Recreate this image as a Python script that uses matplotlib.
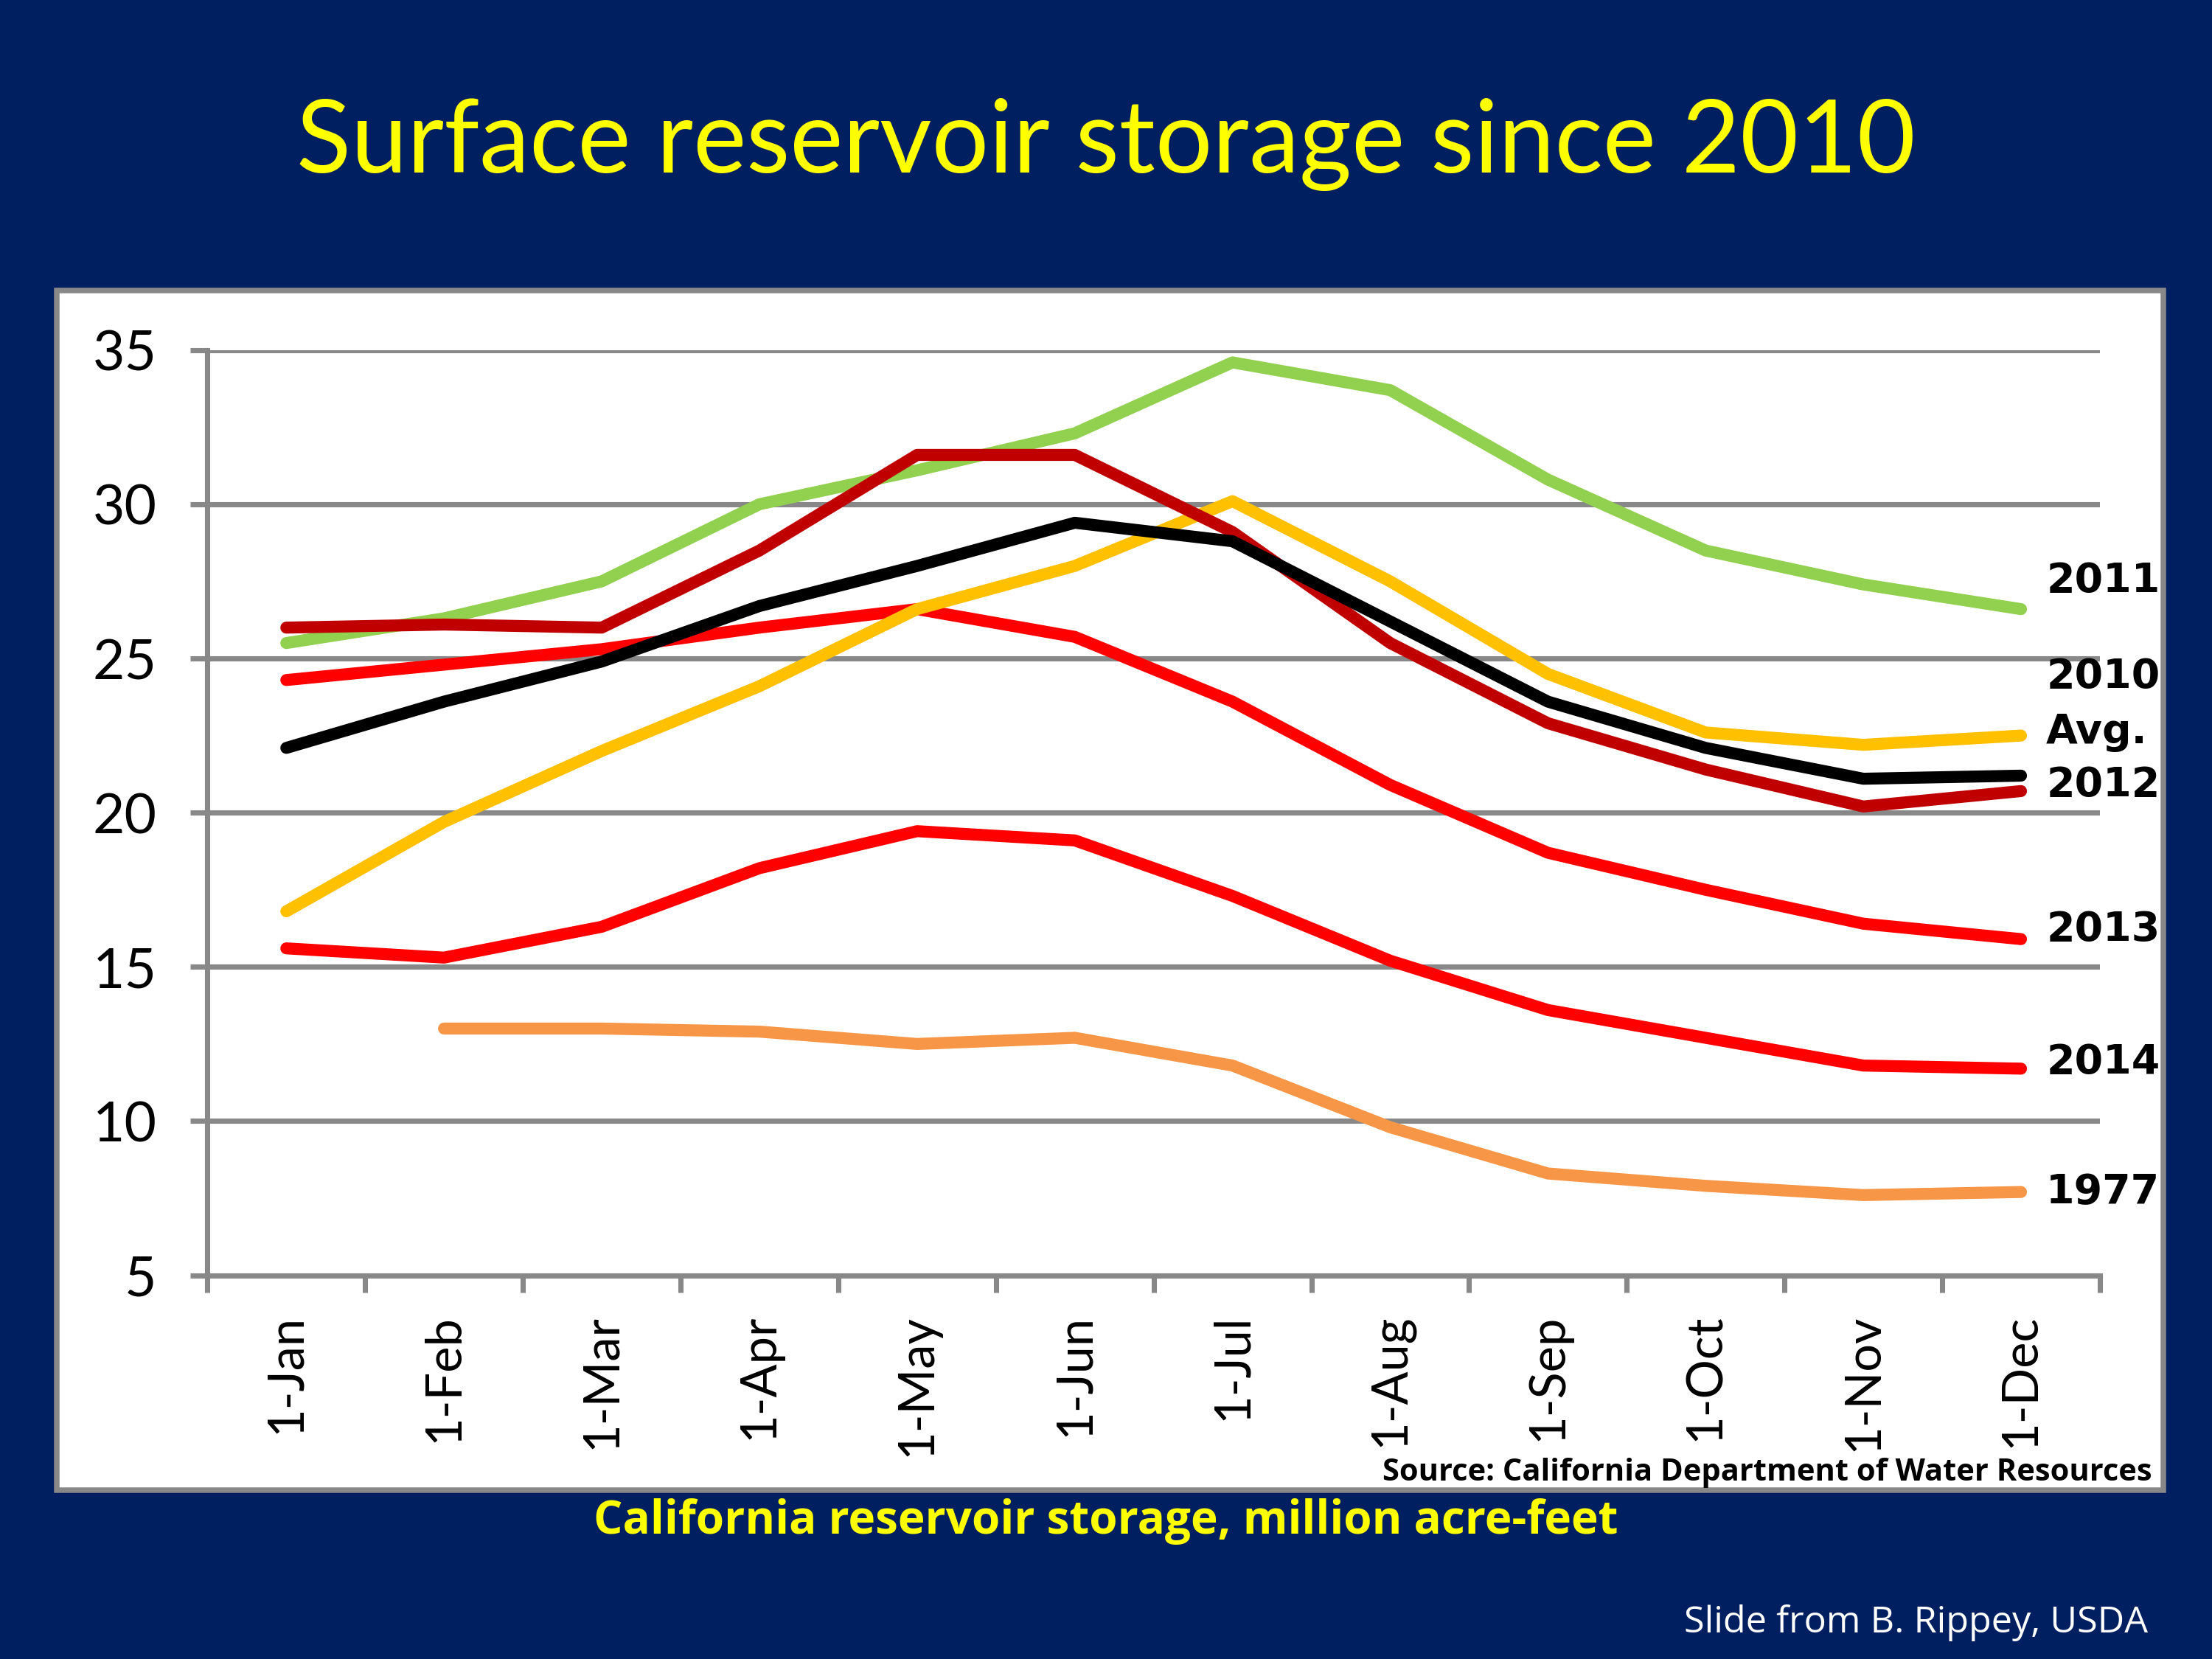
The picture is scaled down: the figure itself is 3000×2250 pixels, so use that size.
import matplotlib
matplotlib.use("Agg")
from matplotlib import pyplot as plt
from matplotlib.patches import Rectangle

# month labels on the category axis
months = ["1-Jan", "1-Feb", "1-Mar", "1-Apr", "1-May", "1-Jun",
          "1-Jul", "1-Aug", "1-Sep", "1-Oct", "1-Nov", "1-Dec"]

# storage, million acre-feet
y2011 = [25.5, 26.3, 27.5, 30.0, 31.1, 32.3, 34.6, 33.7, 30.8, 28.5, 27.4, 26.6]
y2012 = [26.0, 26.1, 26.0, 28.5, 31.6, 31.6, 29.1, 25.5, 22.9, 21.4, 20.2, 20.7]
y2010 = [22.1, 23.6, 24.9, 26.7, 28.0, 29.4, 28.8, 26.2, 23.6, 22.1, 21.1, 21.2]
avg = [16.8, 19.7, 22.0, 24.1, 26.6, 28.0, 30.1, 27.5, 24.5, 22.6, 22.2, 22.5]
y2013 = [24.3, 24.8, 25.3, 26.0, 26.6, 25.7, 23.6, 20.9, 18.7, 17.5, 16.4, 15.9]
y2014 = [15.6, 15.3, 16.3, 18.2, 19.4, 19.1, 17.3, 15.2, 13.6, 12.7, 11.8, 11.7]
y1977 = [None, 13.0, 13.0, 12.9, 12.5, 12.7, 11.8, 9.8, 8.3, 7.9, 7.6, 7.7]

end_labels = ["2011", "2010", "Avg.", "2012", "2013", "2014", "1977"]
end_label_y = [27.5, 24.4, 22.6, 20.9, 16.2, 11.9, 7.7]

NAVY = "#001F60"
GRID = "#888888"

fig = plt.figure(figsize=(10, 7.5), dpi=300, facecolor=NAVY)

# white chart panel
fig.patches.append(Rectangle((0.0255, 0.102), 0.9525, 0.7228, transform=fig.transFigure,
                             facecolor="white", edgecolor=GRID, linewidth=1.8, zorder=-10))

fig.text(0.5, 0.913, "Surface reservoir storage since 2010", color="#FFFF00",
         fontsize=32.8, family="Lato", ha="center", va="center")

ax = fig.add_axes([0.0938, 0.2313, 0.8555, 0.5577])
ax.set_facecolor("white")
ax.set_zorder(1)

x = list(range(len(months)))
series = [
    (y1977, "#F79646"),
    (y2014, "#FF0000"),
    (y2013, "#FF0000"),
    (avg, "#FFC000"),
    (y2011, "#92D050"),
    (y2012, "#C00000"),
    (y2010, "#000000"),
]
for vals, col in series:
    xs = [i for i, v in zip(x, vals) if v is not None]
    vs = [v for v in vals if v is not None]
    ax.plot(xs, vs, color=col, linewidth=3.9, solid_capstyle="round",
            solid_joinstyle="round", zorder=3)

ax.set_xlim(-0.5, len(months) - 0.5)
ax.set_ylim(5, 35)
ax.set_yticks(range(5, 36, 5))
ax.yaxis.grid(True, color=GRID, linewidth=1.7)
ax.set_axisbelow(True)

ax.set_xticks([i - 0.5 for i in range(len(months) + 1)])
ax.set_xticklabels([])
ax.set_xticks(x, minor=True)
ax.set_xticklabels(months, minor=True, rotation=90, fontsize=16, family="Lato")
ax.tick_params(axis="x", which="major", length=5.5, width=1.7, color=GRID, direction="out")
ax.tick_params(axis="x", which="minor", length=0, pad=12.5)
ax.tick_params(axis="y", length=5.5, width=1.7, color=GRID, direction="out", labelsize=18, pad=11)
for lab in ax.get_yticklabels():
    lab.set_family("Lato")

for side in ["top", "right"]:
    ax.spines[side].set_visible(False)
ax.spines["left"].set_color(GRID)
ax.spines["left"].set_linewidth(1.7)
ax.spines["bottom"].set_color(GRID)
ax.spines["bottom"].set_linewidth(1.7)

for lab, yv in zip(end_labels, end_label_y):
    ax.text(11.16, yv, lab, fontsize=13.3, fontweight="bold", family="DejaVu Sans",
            color="black", va="center", ha="left", clip_on=False)

fig.text(0.973, 0.112, "Source: California Department of Water Resources", fontsize=10,
         fontweight="bold", family="Open Sans", color="black", ha="right", va="center")
fig.text(0.5, 0.083, "California reservoir storage, million acre-feet", fontsize=14.9,
         fontweight="bold", family="Open Sans", color="#FFFF00", ha="center", va="center")
fig.text(0.971, 0.022, "Slide from B. Rippey, USDA", fontsize=12.1, family="Open Sans",
         color="white", ha="right", va="center")

fig.savefig("out.png", dpi=300, facecolor=NAVY)
